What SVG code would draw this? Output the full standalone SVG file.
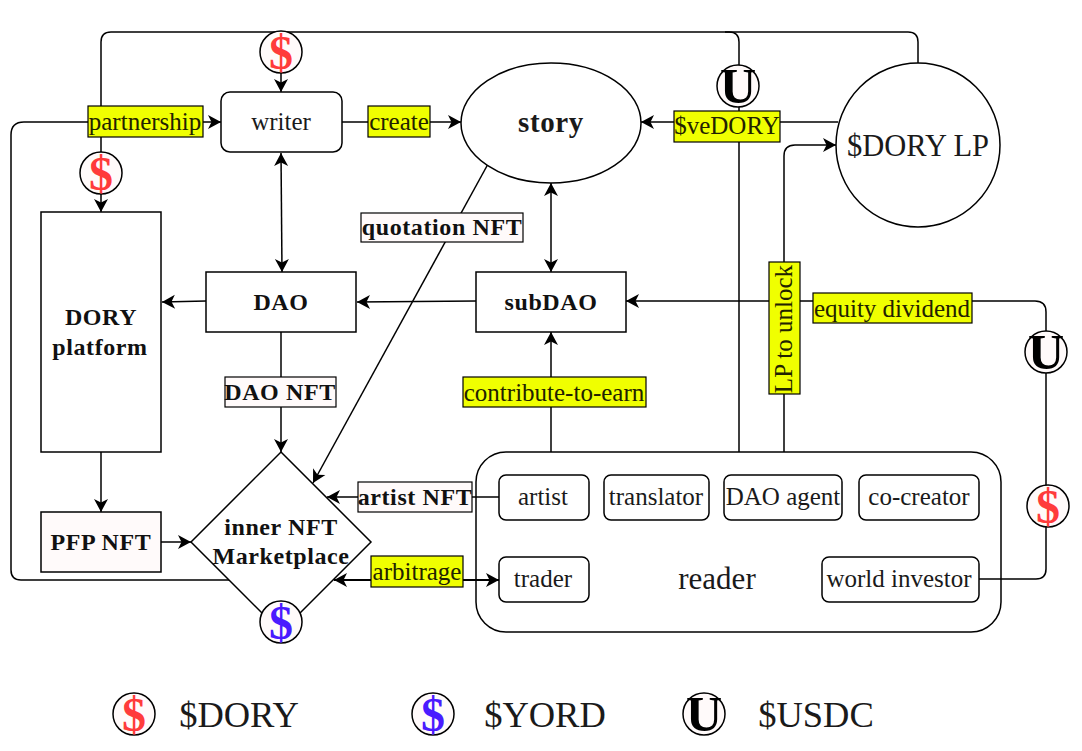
<svg xmlns="http://www.w3.org/2000/svg" width="1082" height="751" viewBox="0 0 1082 751">
<style>
text{font-family:"Liberation Serif","Times New Roman",serif;text-anchor:middle;fill:#1a1a1a}
.n{fill:#fff;stroke:#000;stroke-width:1.5}
.c{fill:none;stroke:#000;stroke-width:1.5}
.a{marker-end:url(#ah)}
.s{marker-start:url(#as)}
.y{fill:#f0ff00;stroke:#000;stroke-width:1.2}
.w{fill:#fffafa;stroke:#000;stroke-width:1.2}
.t{font-size:25px}
.b{font-size:24px;font-weight:bold;letter-spacing:.6px;fill:#111}
.l{font-size:25px;fill:#222200}
.big{font-size:36.500px;fill:#1a1a1a}
.coin{fill:#fffafa;stroke:#000;stroke-width:1.5}
.d{font-size:48px;font-weight:bold}
.u{font-size:50px;font-weight:bold;fill:#000}
</style>
<defs>
<marker id="ah" markerUnits="userSpaceOnUse" markerWidth="16" markerHeight="16" refX="14" refY="8" orient="auto"><path d="M1,1L14,8L1,15L4.500,8Z" fill="#000"/></marker>
<marker id="as" markerUnits="userSpaceOnUse" markerWidth="16" markerHeight="16" refX="2" refY="8" orient="auto"><path d="M15,1L2,8L15,15L11.500,8Z" fill="#000"/></marker>
</defs>
<g id="reader"><rect class="n" x="476" y="452" width="525" height="180" rx="30"/><text x="717" y="589" font-size="31">reader</text></g>
<g id="connectors">
<path class="c a" d="M739,452V42Q739,32 729,32H111Q101,32 101,42V212"/>
<path class="c" d="M725,32H908Q918,32 918,42V64"/>
<path class="c a" d="M230,580H21Q11,580 11,570V135Q11,122 24,122H221"/>
<path class="c a" d="M281,73V92"/>
<path class="c a" d="M342,122H461"/>
<path class="c s a" d="M281,153L282,272"/>
<path class="c s a" d="M551,183V272"/>
<path class="c a" d="M206,301L162,302"/>
<path class="c a" d="M476,301L357,302"/>
<path class="c a" d="M281,332V452"/>
<path class="c a" d="M488,164L313,483"/>
<path class="c a" d="M101,452V512"/>
<path class="c a" d="M161,542H191"/>
<path class="c a" d="M551,452V332"/>
<path class="c a" d="M784,452V156Q784,145 795,145H836"/>
<path class="c a" d="M838,122H641"/>
<path class="c a" d="M979,579H1036Q1046,579 1046,569V312Q1046,301 1035,301H626"/>
<path class="c a" d="M499,497H327"/>
<path class="c s a" style="stroke-width:2" d="M334,580H499"/>
</g>
<g id="writer"><rect class="n" x="221" y="92" width="121" height="60" rx="9"/><text class="t" x="281" y="130">writer</text></g>
<g id="story"><ellipse class="n" cx="551" cy="123" rx="90" ry="60"/><text x="551" y="132" font-size="29" font-weight="bold" letter-spacing=".6" fill="#111">story</text></g>
<g id="lp"><circle class="n" cx="918" cy="145" r="82"/><text x="918" y="156" font-size="30.500">$DORY LP</text></g>
<g id="platform"><rect class="n" x="41" y="212" width="120" height="240"/><text class="b" x="101" y="325">DORY</text><text class="b" x="100" y="355">platform</text></g>
<g id="dao"><rect class="n" x="206" y="272" width="150" height="60"/><text class="b" x="281" y="310">DAO</text></g>
<g id="subdao"><rect class="n" x="476" y="272" width="150" height="60"/><text class="b" x="551" y="310">subDAO</text></g>
<g id="market"><path class="n" d="M281,452L371,542L281,632L191,542Z"/><text class="b" x="281" y="535">inner NFT</text><text class="b" x="281" y="564">Marketplace</text></g>
<g id="pfp"><rect x="41" y="512" width="120" height="60" fill="#fffafa" stroke="#000" stroke-width="1.5"/><text class="b" x="101" y="550">PFP NFT</text></g>
<g id="artist"><rect class="n" x="499" y="475" width="90" height="45" rx="7"/><text class="t" x="543" y="505">artist</text></g>
<g id="translator"><rect class="n" x="604" y="475" width="105" height="45" rx="7"/><text class="t" x="656" y="505">translator</text></g>
<g id="agent"><rect class="n" x="724" y="475" width="118" height="45" rx="7"/><text class="t" x="783" y="505">DAO agent</text></g>
<g id="cocreator"><rect class="n" x="859" y="475" width="120" height="45" rx="7"/><text class="t" x="919" y="505">co-creator</text></g>
<g id="trader"><rect class="n" x="499" y="557" width="90" height="45" rx="7"/><text class="t" x="543" y="587">trader</text></g>
<g id="investor"><rect class="n" x="822" y="557" width="157" height="45" rx="7"/><text class="t" x="899" y="587">world investor</text></g>
<g id="labels">
<rect class="y" x="88" y="106" width="115" height="31"/><text class="l" x="145" y="130">partnership</text>
<rect class="y" x="368" y="106" width="62" height="31"/><text class="l" x="399" y="130">create</text>
<rect class="y" x="674" y="111" width="106" height="31"/><text class="l" x="727" y="134">$veDORY</text>
<rect class="y" x="813" y="293" width="159" height="30"/><text class="l" x="892" y="317">equity dividend</text>
<rect class="y" x="769" y="262" width="31" height="132"/><text class="l" transform="translate(792,329) rotate(-90)">LP to unlock</text>
<rect class="y" x="463" y="377" width="183" height="30"/><text class="l" x="554" y="401">contribute-to-earn</text>
<rect class="y" x="371" y="556" width="92" height="31"/><text class="l" x="417" y="580">arbitrage</text>
<rect class="w" x="361" y="213" width="162" height="29"/><text class="b" x="442" y="235">quotation NFT</text>
<rect class="w" x="225" y="377" width="111" height="30"/><text class="b" x="280" y="400">DAO NFT</text>
<rect class="w" x="358" y="482" width="114" height="30"/><text class="b" x="415" y="505">artist NFT</text>
</g>
<g id="coin-dory-1"><circle class="coin" cx="281" cy="52" r="21"/><text class="d" x="281" y="69" style="fill:#ff3b3b">$</text></g>
<g id="coin-dory-2"><circle class="coin" cx="101" cy="173" r="21"/><text class="d" x="101" y="190" style="fill:#ff3b3b">$</text></g>
<g id="coin-yord-1"><circle class="coin" cx="281" cy="622" r="21"/><text class="d" x="281" y="639" style="fill:#4a1aff">$</text></g>
<g id="coin-usdc-1"><circle class="coin" cx="738" cy="86" r="21"/><text class="u" x="738" y="103">U</text></g>
<g id="coin-usdc-2"><circle class="coin" cx="1046" cy="352" r="21"/><text class="u" x="1046" y="369">U</text></g>
<g id="coin-dory-3"><circle class="coin" cx="1048" cy="506" r="21"/><text class="d" x="1048" y="523" style="fill:#ff3b3b">$</text></g>
<g id="legend">
<circle class="coin" cx="134" cy="714" r="21"/><text class="d" x="134" y="731" style="fill:#ff3b3b">$</text><text class="big" x="239" y="727">$DORY</text>
<circle class="coin" cx="433" cy="714" r="21"/><text class="d" x="433" y="731" style="fill:#4a1aff">$</text><text class="big" x="545" y="727">$YORD</text>
<circle class="coin" cx="704" cy="714" r="21"/><text class="u" x="704" y="731">U</text><text class="big" x="816" y="727">$USDC</text>
</g>
</svg>
